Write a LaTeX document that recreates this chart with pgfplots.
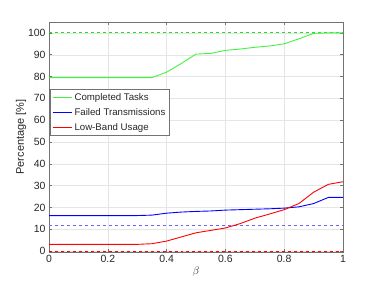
\documentclass[border=0pt]{standalone}
\usepackage{pgfplots}
\pgfplotsset{compat=1.18}
\usepackage{fontspec}
\setmainfont{Liberation Sans}
\definecolor{axgray}{rgb}{0.45,0.45,0.45}
\definecolor{txtgray}{rgb}{0.15,0.15,0.15}
\definecolor{lgreen}{rgb}{0.25,0.95,0.25}
\definecolor{dgreen}{rgb}{0.1,0.9,0.1}
\definecolor{lblue}{rgb}{0.4,0.4,1}
\begin{document}
\begin{tikzpicture}
\path[use as bounding box] (-49bp,-32bp) rectangle (330bp,252bp);
\begin{axis}[
  scale only axis,
  width=294bp, height=230bp,
  xmin=0, xmax=1, ymin=-0.4, ymax=105,
  xtick={0,0.2,0.4,0.6,0.8,1},
  xticklabels={0,0.2,0.4,0.6,0.8,1},
  ytick={0,10,20,30,40,50,60,70,80,90,100},
  grid=major,
  grid style={gray!20, line width=0.4pt},
  axis line style={axgray, line width=0.5pt},
  tick style={axgray, line width=0.5pt},
  tick align=inside,
  major tick length=3bp,
  ticklabel style={font=\fontsize{10.5}{12}\selectfont, text=txtgray},
  /pgf/number format/assume math mode=true,
  xlabel={$\beta$},
  ylabel={Percentage [\%]},
  label style={font=\fontsize{11}{12}\selectfont, text=txtgray},
  xlabel style={yshift=3bp},
  ylabel style={yshift=-5bp},
  legend style={at={(0.003,0.709)}, anchor=north west, draw=axgray, fill=white,
    font=\fontsize{9.7}{11}\selectfont, row sep=2.5bp, inner sep=2pt},
  legend cell align=left,
  legend image post style={xscale=1.15},
]
\addplot[dgreen, dashed, line width=1pt, forget plot] coordinates {(0,100) (1,100)};
\addplot[lblue, dashed, line width=1pt, forget plot] coordinates {(0,11.8) (1,11.8)};
\addplot[red, dashed, line width=1pt, forget plot] coordinates {(0,0) (1,0)};
\addplot[lgreen, line width=0.9pt] coordinates {
(0,79.5) (0.05,79.5) (0.1,79.5) (0.15,79.5) (0.2,79.5) (0.25,79.5) (0.3,79.5) (0.35,79.5)
(0.4,82) (0.45,86) (0.5,90.3) (0.55,90.6) (0.6,92) (0.65,92.6) (0.7,93.4) (0.75,94) (0.8,95)
(0.85,97.3) (0.9,99.8) (0.95,100) (1,100)};
\addlegendentry{\textcolor{txtgray}{Completed Tasks}}
\addplot[blue, line width=0.9pt] coordinates {
(0,16.3) (0.05,16.3) (0.1,16.3) (0.15,16.3) (0.2,16.3) (0.25,16.3) (0.3,16.3) (0.35,16.5)
(0.4,17.4) (0.45,17.9) (0.5,18.2) (0.55,18.4) (0.6,18.8) (0.65,19) (0.7,19.2) (0.75,19.4) (0.8,19.7)
(0.85,20.3) (0.9,21.8) (0.95,24.6) (1,24.6)};
\addlegendentry{\textcolor{txtgray}{Failed Transmissions}}
\addplot[red, line width=0.9pt] coordinates {
(0,3.1) (0.05,3.1) (0.1,3.1) (0.15,3.1) (0.2,3.1) (0.25,3.1) (0.3,3.1) (0.35,3.4)
(0.4,4.6) (0.45,6.5) (0.5,8.4) (0.55,9.5) (0.6,10.6) (0.65,12.6) (0.7,15.1) (0.75,17) (0.8,19)
(0.85,21.8) (0.9,27) (0.95,30.6) (1,31.8)};
\addlegendentry{\textcolor{txtgray}{Low-Band Usage}}
\end{axis}
\end{tikzpicture}
\end{document}
